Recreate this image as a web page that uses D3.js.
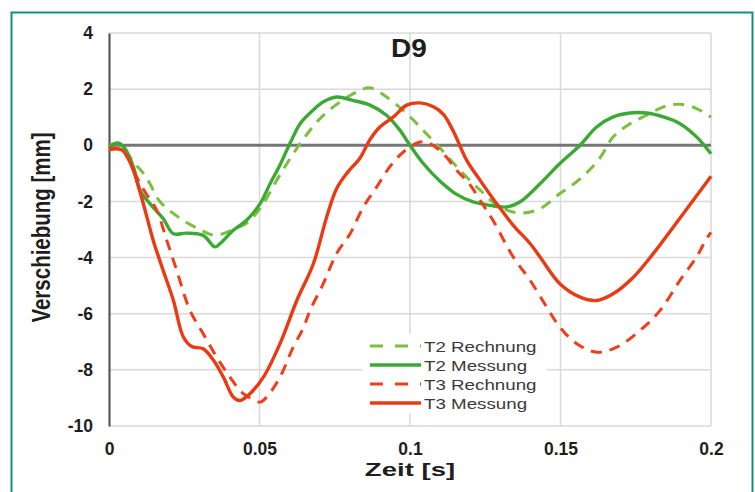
<!DOCTYPE html>
<html>
<head>
<meta charset="utf-8">
<script src="https://cdn.jsdelivr.net/npm/d3@7"></script>
<style>
  html, body { margin: 0; padding: 0; background: #fff; }
  svg { display: block; font-family: "Liberation Sans", Arial, sans-serif; }
</style>
</head>
<body>
<svg id="chart" width="755" height="492"></svg>
<script>
// ---- data ----
const chartTitle = "D9";
const xTicks = [0, 0.05, 0.1, 0.15, 0.2];
const xTickLabels = ["0", "0.05", "0.1", "0.15", "0.2"];
const yTicks = [4, 2, 0, -2, -4, -6, -8, -10];
const yTickLabels = ["4", "2", "0", "-2", "-4", "-6", "-8", "-10"];
const seriesNames = ["T2 Rechnung", "T2 Messung", "T3 Rechnung", "T3 Messung"];

const t2Rechnung = [[0,0],[0.003,0.05],[0.006,-0.3],[0.009,-0.7],[0.0114,-1.0],[0.0136,-1.37],[0.0169,-2.0],[0.0236,-2.6],[0.0302,-3.0],[0.035,-3.2],[0.0413,-3.0],[0.046,-2.75],[0.0502,-2.25],[0.0568,-1.05],[0.0635,0.06],[0.0701,0.95],[0.0767,1.54],[0.0823,1.9],[0.0867,2.05],[0.0922,1.72],[0.0989,1.13],[0.1044,0.53],[0.11,-0.1],[0.1166,-0.89],[0.1233,-1.6],[0.1299,-2.2],[0.1365,-2.41],[0.1432,-2.26],[0.1498,-1.72],[0.1565,-1.2],[0.1631,-0.45],[0.1675,0.3],[0.1731,0.77],[0.1786,1.07],[0.1842,1.37],[0.1897,1.46],[0.1952,1.31],[0.2,1.0]];

const t2Messung = [[0,-0.05],[0.003,0.08],[0.0053,-0.12],[0.0081,-0.77],[0.0103,-1.6],[0.0136,-2.08],[0.018,-2.61],[0.0214,-3.15],[0.0258,-3.13],[0.0313,-3.21],[0.0352,-3.62],[0.0369,-3.5],[0.0413,-3.03],[0.0457,-2.67],[0.0502,-2.08],[0.0535,-1.37],[0.0568,-0.7],[0.0601,0.06],[0.0635,0.77],[0.0678,1.25],[0.0711,1.54],[0.0756,1.72],[0.081,1.6],[0.0867,1.43],[0.0922,1.07],[0.0967,0.53],[0.1,0],[0.1044,-0.65],[0.11,-1.28],[0.1155,-1.75],[0.121,-2.02],[0.1266,-2.14],[0.1321,-2.2],[0.1365,-2.02],[0.1432,-1.37],[0.1498,-0.65],[0.1565,0],[0.162,0.65],[0.1675,1.01],[0.1731,1.15],[0.1786,1.15],[0.1842,1.01],[0.1897,0.77],[0.1952,0.3],[0.2,-0.3]];

const t3Rechnung = [[0,-0.1],[0.004,-0.15],[0.0065,-0.5],[0.0095,-1.2],[0.0125,-1.75],[0.0158,-2.3],[0.0192,-3.39],[0.0225,-4.46],[0.0269,-5.88],[0.0313,-6.71],[0.0358,-7.55],[0.0402,-8.26],[0.0446,-8.85],[0.049,-9.1],[0.0502,-9.15],[0.0524,-8.97],[0.0568,-8.26],[0.0612,-7.19],[0.0646,-6.5],[0.0668,-5.88],[0.0712,-4.93],[0.0756,-3.86],[0.0801,-3.15],[0.0845,-2.2],[0.0889,-1.49],[0.0934,-0.75],[0.0978,-0.24],[0.1033,0.12],[0.1066,0.06],[0.1111,-0.3],[0.1155,-0.89],[0.1199,-1.4],[0.1233,-1.96],[0.1277,-2.7],[0.1343,-3.98],[0.1399,-4.81],[0.1454,-5.76],[0.1498,-6.48],[0.1554,-7.07],[0.162,-7.37],[0.1687,-7.19],[0.1764,-6.6],[0.1831,-5.88],[0.1897,-4.81],[0.1952,-3.98],[0.1985,-3.33],[0.2,-3.1]];

const t3Messung = [[0,-0.15],[0.004,-0.15],[0.0055,-0.3],[0.0081,-0.89],[0.0114,-2.08],[0.0147,-3.39],[0.018,-4.46],[0.0214,-5.53],[0.0247,-6.83],[0.0275,-7.17],[0.0313,-7.25],[0.0347,-7.66],[0.038,-8.26],[0.0413,-8.97],[0.0435,-9.09],[0.0468,-8.85],[0.0513,-8.26],[0.0568,-7.07],[0.0624,-5.53],[0.0679,-4.22],[0.0723,-2.56],[0.0756,-1.55],[0.079,-1.0],[0.0834,-0.45],[0.0867,0.2],[0.09,0.65],[0.0945,1.01],[0.0989,1.43],[0.1033,1.51],[0.1078,1.37],[0.1111,1.1],[0.1144,0.5],[0.1188,-0.53],[0.1233,-1.25],[0.1288,-2.08],[0.1343,-2.85],[0.1399,-3.5],[0.1432,-3.98],[0.1498,-4.93],[0.1565,-5.41],[0.162,-5.53],[0.1675,-5.29],[0.1742,-4.7],[0.1808,-3.86],[0.1875,-2.91],[0.1941,-1.96],[0.2,-1.1]];

// ---- styling ----
const seriesData = [t2Rechnung, t2Messung, t3Rechnung, t3Messung];
const seriesColors = ["#7cbf3f", "#3aaa35", "#ef3e1c", "#ea3a14"];
const seriesDash = ["11,8", null, "11,8", null];
const seriesWidth = [3, 3.4, 3, 3.4];

const svg = d3.select("#chart");
const W = 755, H = 492;

// frame
svg.append("path")
  .attr("d", `M11.5,${H+5} L11.5,12.5 L752.5,12.5 L752.5,${H+5}`)
  .attr("fill", "none").attr("stroke", "#12907f").attr("stroke-width", 2);

const x = d3.scaleLinear().domain([0, 0.2]).range([109, 711]);
const y = d3.scaleLinear().domain([-10, 4]).range([426, 33]);

// gridlines
const grid = svg.append("g");
grid.selectAll("line.h").data(yTicks).enter().append("line")
  .attr("x1", x(0)).attr("x2", x(0.2))
  .attr("y1", d => y(d)).attr("y2", d => y(d))
  .attr("stroke", "#d9d9d9").attr("stroke-width", 1.5);
grid.selectAll("line.v").data(xTicks.slice(1)).enter().append("line")
  .attr("x1", d => x(d)).attr("x2", d => x(d))
  .attr("y1", y(4)).attr("y2", y(-10))
  .attr("stroke", "#d9d9d9").attr("stroke-width", 1.5);

// zero line
svg.append("line")
  .attr("x1", x(0)).attr("x2", x(0.2)).attr("y1", y(0)).attr("y2", y(0))
  .attr("stroke", "#767676").attr("stroke-width", 3);

// y axis
const yAxis = d3.axisLeft(y).tickValues(yTicks).tickSize(0).tickPadding(16)
  .tickFormat((d, i) => yTickLabels[i]);
const gy = svg.append("g").attr("transform", `translate(${x(0)},0)`).call(yAxis);
gy.select(".domain").attr("stroke", "#595959").attr("stroke-width", 2.2);
gy.selectAll("text").attr("font-size", 17.5).attr("font-weight", "bold")
  .attr("fill", "#1e1e1e").attr("font-family", "'Liberation Sans', Arial, sans-serif");

// x axis
const xAxis = d3.axisBottom(x).tickValues(xTicks).tickSize(0).tickPadding(17)
  .tickFormat((d, i) => xTickLabels[i]);
const gx = svg.append("g").attr("transform", `translate(0,${y(-10)})`).call(xAxis);
gx.select(".domain").remove();
gx.selectAll("text").attr("font-size", 17.5).attr("font-weight", "bold")
  .attr("fill", "#1e1e1e").attr("font-family", "'Liberation Sans', Arial, sans-serif");

// lines
const line = d3.line().x(d => x(d[0])).y(d => y(d[1])).curve(d3.curveCatmullRom.alpha(0.5));
const plot = svg.append("g");
seriesData.forEach((data, i) => {
  plot.append("path").datum(data)
    .attr("d", line)
    .attr("fill", "none")
    .attr("stroke", seriesColors[i])
    .attr("stroke-width", seriesWidth[i])
    .attr("stroke-dasharray", seriesDash[i])
    .attr("stroke-linejoin", "round")
    .attr("stroke-linecap", "butt");
});

// title
svg.append("text").attr("transform", "translate(409,57) scale(1.12,1)").attr("text-anchor", "middle")
  .attr("font-size", 25).attr("font-weight", "bold").attr("fill", "#1e1e1e")
  .text(chartTitle);

// axis titles
svg.append("text").attr("transform", `translate(50,${(y(4)+y(-10))/2 - 2}) rotate(-90) scale(1,1.25)`)
  .attr("text-anchor", "middle").attr("font-size", 20.5).attr("font-weight", "bold").attr("fill", "#1e1e1e")
  .text("Verschiebung [mm]");
svg.append("text").attr("transform", "translate(410,476) scale(1.45,1)").attr("text-anchor", "middle")
  .attr("font-size", 19).attr("font-weight", "bold").attr("fill", "#1e1e1e")
  .text("Zeit [s]");

// legend
const lg = svg.append("g");
lg.append("rect").attr("x", 362).attr("y", 334).attr("width", 185).attr("height", 79).attr("fill", "#fff");
const rowY = [346, 365, 384, 403];
seriesNames.forEach((name, i) => {
  lg.append("line").attr("x1", 370).attr("x2", 421).attr("y1", rowY[i]).attr("y2", rowY[i])
    .attr("stroke", seriesColors[i]).attr("stroke-width", seriesWidth[i])
    .attr("stroke-dasharray", seriesDash[i] ? "13,12" : null);
  lg.append("text").attr("transform", `translate(424,${rowY[i] + 5.5}) scale(1.25,1)`)
    .attr("font-size", 15).attr("fill", "#3a3a3a").text(name);
});
</script>
</body>
</html>
